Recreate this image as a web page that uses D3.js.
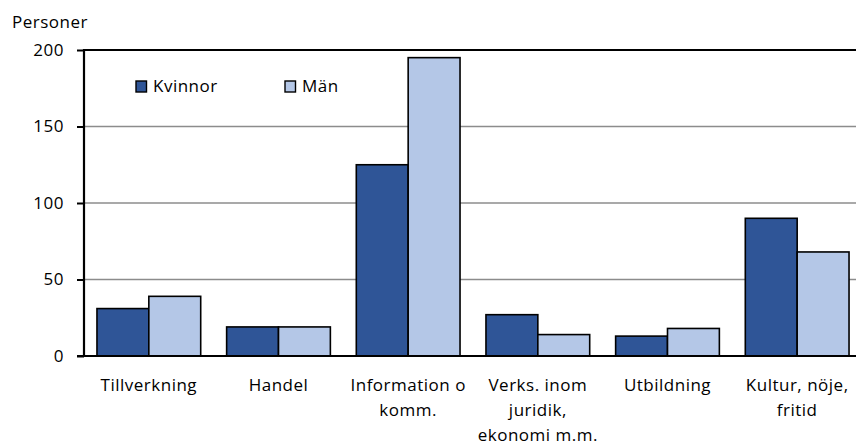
<!DOCTYPE html>
<html><head><meta charset="utf-8">
<script src="https://cdn.jsdelivr.net/npm/d3@7"></script>
<style>body{margin:0;background:#fff}svg{display:block}text{font-family:"Open Sans",sans-serif;fill:#000;letter-spacing:0.5px}</style>
</head><body><svg id="c" width="856" height="446"></svg>
<script>
const categories = [["Tillverkning"],["Handel"],["Information o","komm."],["Verks. inom","juridik,","ekonomi m.m."],["Utbildning"],["Kultur, nöje,","fritid"]];
const kvinnor = [31, 19, 125, 27, 13, 90];
const man = [39, 19, 195, 14, 18, 68];
const seriesNames = ["Kvinnor", "Män"];
const yTicks = [0, 50, 100, 150, 200];
const colors = ["#2F5597", "#B4C7E7"];

(function () {
const svg = d3.select("#c");
const pL = 84, pR = 862, pT = 50, pB = 356;
const FS = 17;
const x = d3.scaleBand().domain(d3.range(categories.length)).range([pL, pR]).paddingInner(0).paddingOuter(0);
const y = d3.scaleLinear().domain([0, 200]).range([pB, pT]);
const bw = x.bandwidth() * 0.4;

// gridlines
svg.append("g").selectAll("line").data(yTicks.filter(t => t > 0 && t < 200)).join("line")
  .attr("x1", pL).attr("x2", 856).attr("y1", d => y(d)).attr("y2", d => y(d))
  .attr("stroke", "#8c8c8c").attr("stroke-width", 1.3);
svg.append("line").attr("x1", pL).attr("x2", 856).attr("y1", y(200)).attr("y2", y(200))
  .attr("stroke", "#000").attr("stroke-width", 2);

// bars
const data = [kvinnor, man];
data.forEach((vals, s) => {
  svg.append("g").selectAll("rect").data(vals).join("rect")
    .attr("x", (d, i) => x(i) + x.bandwidth() / 2 - bw + s * bw)
    .attr("width", bw)
    .attr("y", d => y(d))
    .attr("height", d => y(0) - y(d))
    .attr("fill", colors[s]).attr("stroke", "#000").attr("stroke-width", 1.6);
});

// y axis
const yAxis = d3.axisLeft(y).tickValues(yTicks).tickSize(7).tickPadding(13);
const ya = svg.append("g").attr("transform", `translate(${pL},0)`).call(yAxis);
ya.select(".domain").remove();
ya.selectAll("line").attr("stroke", "#000").attr("stroke-width", 2);
ya.selectAll("text").attr("font-size", FS).style("font-family", "'Open Sans',sans-serif");
svg.append("line").attr("x1", pL).attr("x2", pL).attr("y1", y(200) - 1).attr("y2", y(0) + 1)
  .attr("stroke", "#000").attr("stroke-width", 2.2);
svg.append("line").attr("x1", pL - 7).attr("x2", 856).attr("y1", y(0)).attr("y2", y(0))
  .attr("stroke", "#000").attr("stroke-width", 2.2);

// x labels
const xl = svg.append("g").selectAll("text").data(categories).join("text")
  .attr("text-anchor", "middle").attr("font-size", FS)
  .attr("transform", (d, i) => `translate(${x(i) + x.bandwidth() / 2},391)`);
xl.selectAll("tspan").data(d => d).join("tspan")
  .attr("x", 0).attr("dy", (d, i) => i === 0 ? 0 : 25).text(d => d);

// y title
svg.append("text").attr("x", 12).attr("y", 28).attr("font-size", FS).text("Personer");

// legend
const leg = [136, 285];
leg.forEach((lx, i) => {
  svg.append("rect").attr("x", lx).attr("y", 81).attr("width", 10.5).attr("height", 11)
    .attr("fill", colors[i]).attr("stroke", "#000").attr("stroke-width", 1.4);
  svg.append("text").attr("x", lx + 17).attr("y", 92).attr("font-size", FS).text(seriesNames[i]);
});
})();
</script></body></html>
